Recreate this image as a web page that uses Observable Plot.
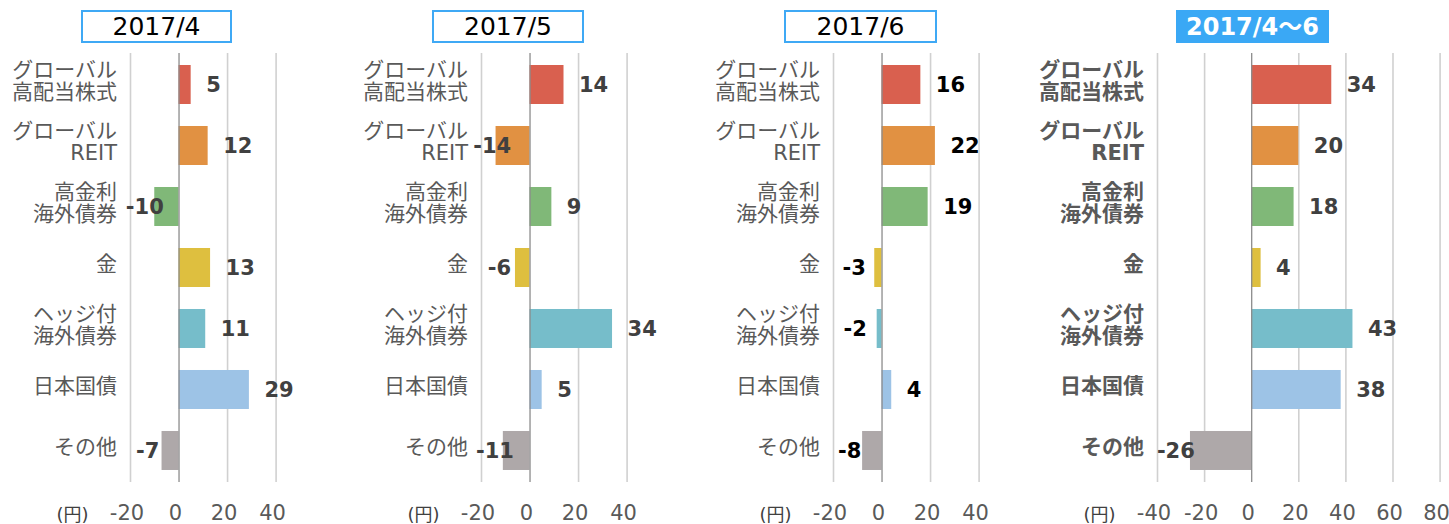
<!DOCTYPE html>
<html>
<head>
<meta charset="utf-8">
<script src="https://cdn.jsdelivr.net/npm/d3@7"></script>
<script src="https://cdn.jsdelivr.net/npm/@observablehq/plot@0.6"></script>
<style>
  body { margin: 0; background: #fff; }
  #root { position: relative; width: 1449px; height: 524px; overflow: hidden; background: #fff; }
  .title { position: absolute; box-sizing: border-box; top: 10px; height: 33px;
           display: flex; align-items: center; justify-content: center;
           font-family: 'DejaVu Sans', 'Noto Sans CJK JP', sans-serif; line-height: 1; }
  .title.outline { border: 2px solid #3FA9F5; background: #fff; color: #000; font-size: 25px; }
  .title.filled { background: #3AA8F5; color: #fff; font-weight: bold; font-size: 24px; }
</style>
</head>
<body>
<div id="root"></div>
<script>
// ---- data ----
const categories = ["グローバル\n高配当株式", "グローバル\nREIT", "高金利\n海外債券", "金", "ヘッジ付\n海外債券", "日本国債", "その他"];
const colors = ["#D9604F", "#E19142", "#80B878", "#DEBF3F", "#76BDCA", "#9DC3E6", "#AEA8A9"];
const titles = ["2017/4", "2017/5", "2017/6", "2017/4〜6"];
const apr = [5, 12, -10, 13, 11, 29, -7];
const may = [14, -14, 9, -6, 34, 5, -11];
const jun = [16, 22, 19, -3, -2, 4, -8];
const total = [34, 20, 18, 4, 43, 38, -26];
const ticksMonthly = [-20, 0, 20, 40];
const ticksTotal = [-40, -20, 0, 20, 40, 60, 80];
const unitLabel = "(円)";

// ---- layout ----
const fontFamily = "'DejaVu Sans', 'Noto Sans CJK JP', sans-serif";
// label placement rule for negative values (centre of the label, in data units)
const negMonthly = v => 0.38 * v - 10.3;
const negTotal = v => v - 6.2;
const panels = [
  {title: titles[0], values: apr, ticks: ticksMonthly, gridStart: 129.5, plotWidth: 145.6, mr: 40, box: [81, 151], valueFill: "#404040", bold: false, filled: false, neg: negMonthly},
  {title: titles[1], values: may, ticks: ticksMonthly, gridStart: 480.8, plotWidth: 145.6, mr: 40, box: [432, 152], valueFill: "#404040", bold: false, filled: false, neg: negMonthly},
  {title: titles[2], values: jun, ticks: ticksMonthly, gridStart: 833.0, plotWidth: 145.6, mr: 40, box: [784, 153], valueFill: "#000000", bold: false, filled: false, neg: negMonthly},
  {title: titles[3], values: total, ticks: ticksTotal, gridStart: 1156.7, plotWidth: 282.6, mr: 10, box: [1176, 153], valueFill: "#404040", bold: true, filled: true, neg: negTotal}
];

const root = document.getElementById("root");
const ML = 128;

panels.forEach(p => {
  const rows = categories.map((c, i) => ({cat: c, value: p.values[i]}));
  const domain = [p.ticks[0], p.ticks[p.ticks.length - 1]];
  const W = ML + p.plotWidth + p.mr;
  const chart = Plot.plot({
    width: W,
    height: 524,
    marginTop: 53,
    marginBottom: 42,
    marginLeft: ML,
    marginRight: p.mr,
    x: {domain, axis: null},
    y: {domain: categories, axis: null, paddingInner: 0.36, paddingOuter: 0.18},
    color: {domain: categories, range: colors},
    style: {fontFamily, background: "transparent", overflow: "visible"},
    marks: [
      Plot.ruleX(p.ticks.filter(t => t !== 0), {stroke: "#D0D0D0", strokeWidth: 1.6}),
      Plot.barX(rows, {x: "value", y: "cat", fill: "cat"}),
      Plot.ruleX([0], {stroke: "#8C8C8C", strokeWidth: 1.3}),
      Plot.text(rows, {y: "cat", text: "cat", frameAnchor: "left", textAnchor: "end", lineAnchor: "middle",
        dx: -13.5, dy: -4, fontSize: 21, lineHeight: 1.02, fill: "#595959",
        fontWeight: p.bold ? "bold" : "normal"}),
      Plot.text(rows.filter(d => d.value >= 0), {x: "value", y: "cat", text: d => String(d.value),
        textAnchor: "start", dx: 15, fontSize: 21, fontWeight: "bold", fill: p.valueFill}),
      Plot.text(rows.filter(d => d.value < 0), {x: d => p.neg(d.value), y: "cat", text: d => String(d.value),
        textAnchor: "middle", fontSize: 21, fontWeight: "bold", fill: p.valueFill}),
      Plot.text(p.ticks, {x: d => d, text: d => String(d), frameAnchor: "bottom", lineAnchor: "middle",
        dx: -3.5, dy: 31, fontSize: 21, fill: "#595959"}),
      Plot.text([unitLabel], {frameAnchor: "bottom-left", textAnchor: "middle", lineAnchor: "middle",
        dx: -58, dy: 33, fontSize: 18, fill: "#404040"})
    ]
  });
  chart.style.position = "absolute";
  chart.style.left = (p.gridStart - ML) + "px";
  chart.style.top = "0px";
  root.appendChild(chart);

  const t = document.createElement("div");
  t.className = "title " + (p.filled ? "filled" : "outline");
  t.style.left = p.box[0] + "px";
  t.style.width = p.box[1] + "px";
  t.textContent = p.title;
  root.appendChild(t);
});
</script>
</body>
</html>
